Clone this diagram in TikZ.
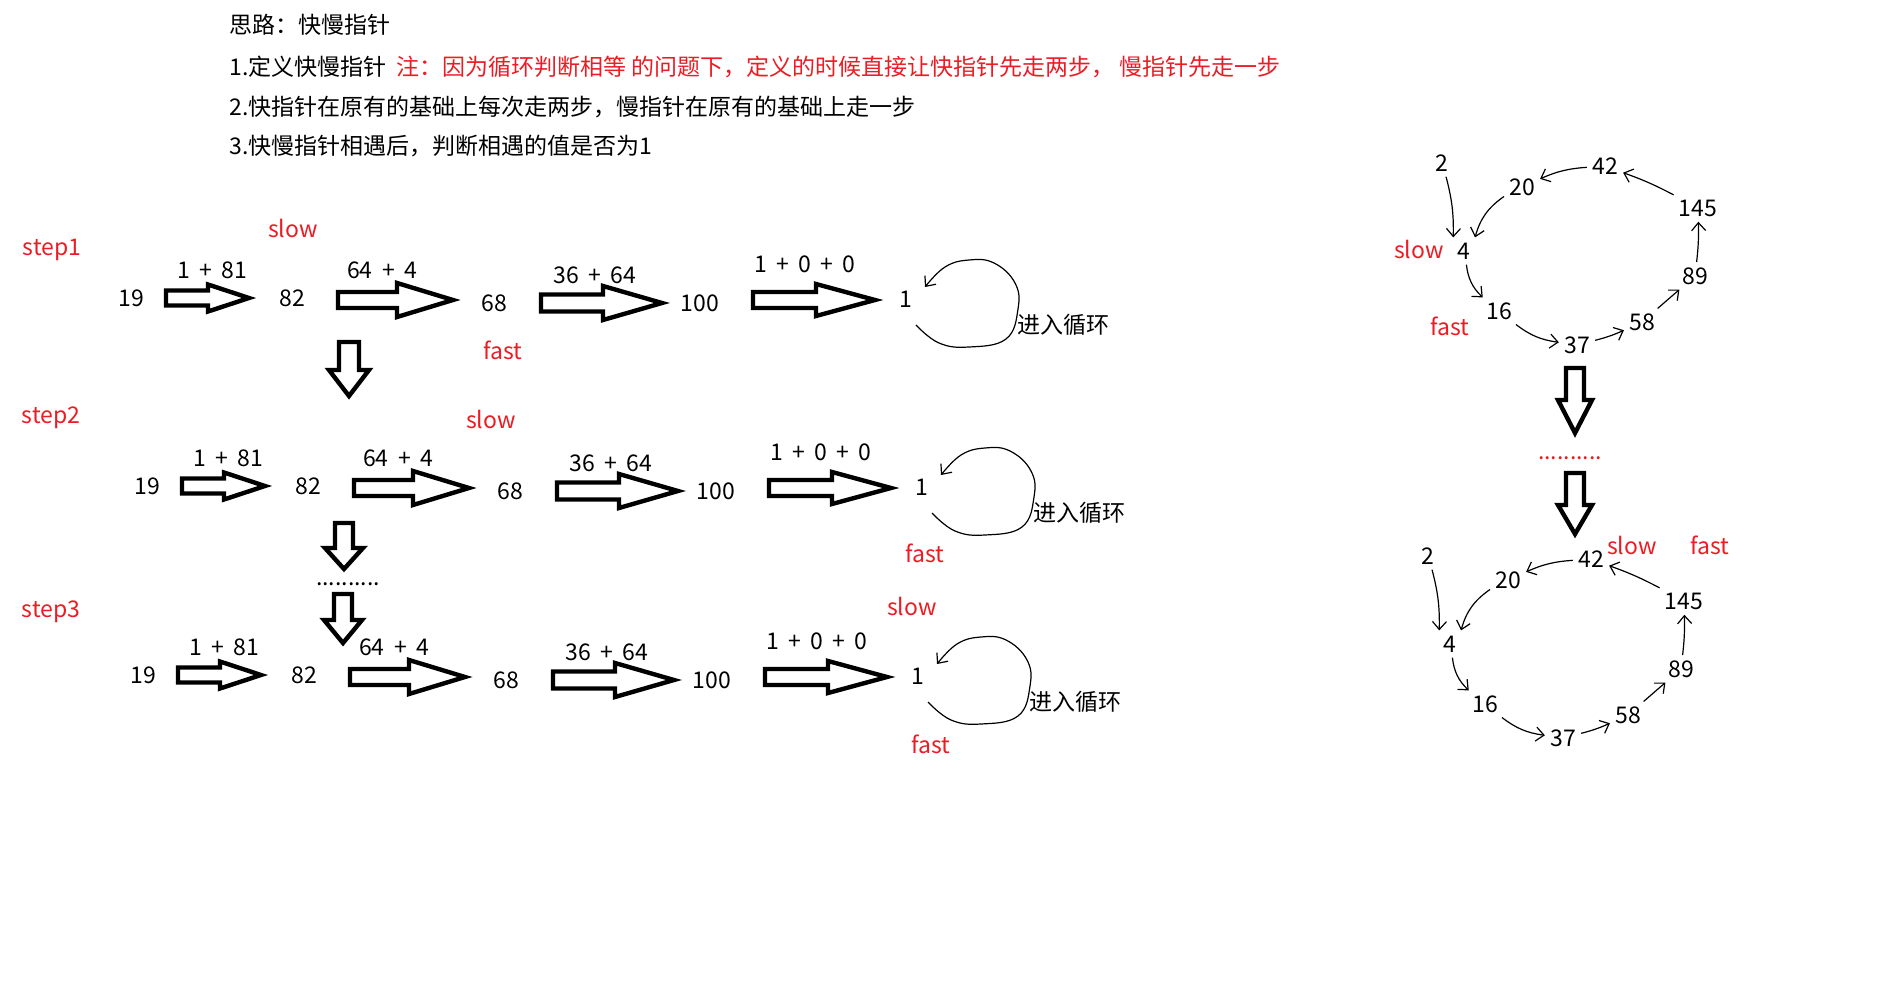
\documentclass[tikz,border=0pt]{standalone}
\usepackage{fontspec}
\setmainfont{Noto Sans CJK SC}
\newfontfamily\sumfont[WordSpace=1.8]{Noto Sans CJK SC}
\usetikzlibrary{arrows.meta}
\definecolor{pred}{RGB}{237,28,36}
% horizontal block arrow: x1, x-head-base, x-tip, y, shaft half, head half
\newcommand\HArrow[6]{\draw[barrow] (#1,#4-#5) -- (#2,#4-#5) -- (#2,#4-#6) -- (#3,#4) -- (#2,#4+#6) -- (#2,#4+#5) -- (#1,#4+#5) -- cycle;}
% vertical block arrow: x, y-top, y-head-base, y-tip, shaft half, head half
\newcommand\VArrow[6]{\draw[barrow] (#1-#5,#2) -- (#1+#5,#2) -- (#1+#5,#3) -- (#1+#6,#3) -- (#1,#4) -- (#1-#6,#3) -- (#1-#5,#3) -- cycle;}
\begin{document}
\begin{tikzpicture}[x=0.5pt,y=-0.5pt,
  txt/.style={inner sep=1pt,font=\fontsize{11.5pt}{14pt}\selectfont},
  sumtxt/.style={inner sep=1pt,font=\sumfont\fontsize{11.5pt}{14pt}\selectfont},
  rtxt/.style={txt,text=pred},
  num/.style={txt,inner sep=2pt},
  barrow/.style={draw=black,line width=2.2pt,line join=miter,fill=white},
  thinarrow/.style={draw=black,line width=0.6pt,-{Straight Barb[length=4pt,width=7pt]},shorten <=0.5pt,shorten >=0.5pt},
  loopline/.style={draw=black,line width=0.6pt,-{Straight Barb[length=4pt,width=7pt]}}]
\fill[white] (0,0) rectangle (1900,1000);
\useasboundingbox (0,0) rectangle (1900,1000);

% header
\node[txt,anchor=west] (h0) at (227,25) {思路：快慢指针};
\node[txt,anchor=west] (h1) at (227,67) {1.定义快慢指针};
\node[rtxt,anchor=west] (h1n) at (394,67) {注：因为循环判断相等 的问题下，定义的时候直接让快指针先走两步， 慢指针先走一步};
\node[txt,anchor=west] (h2) at (227,107) {2.快指针在原有的基础上每次走两步，慢指针在原有的基础上走一步};
\node[txt,anchor=west] (h3) at (227,146) {3.快慢指针相遇后，判断相遇的值是否为1};

% three rows
\foreach \r/\dx/\dy in {1/0/0,2/16/188,3/12/377}{
\begin{scope}[shift={(\dx,\dy)}]
  \node[txt] (n19-\r) at (131,298) {19};
  \node[txt] (n82-\r) at (292,298) {82};
  \node[txt] (n68-\r) at (494,303) {68};
  \node[txt] (n100-\r) at (700,303) {100};
  \node[txt] (n1-\r) at (906,299) {1};
  \HArrow{166}{208}{249}{298}{7.5}{13.5}
  \HArrow{338}{397}{453}{300}{8}{17}
  \HArrow{541}{603}{662}{303}{8.5}{17}
  \HArrow{753}{816}{875}{300}{8}{16}
  \node[sumtxt] (l1-\r) at (212,270) {1 + 81};
  \node[sumtxt] (l2-\r) at (382,270) {64 + 4};
  \node[sumtxt] (l3-\r) at (595,275) {36 + 64};
  \node[sumtxt] (l4-\r) at (805,264) {1 + 0 + 0};
  \draw[loopline] plot[smooth,tension=0.7] coordinates {(916,325) (939,343) (969,347) (1006,339) (1018,309) (1015,283) (994,263) (969,260) (945,267) (925,287)};
  \node[txt] (loop-\r) at (1063,325) {进入循环};
\end{scope}
}

% red pointer labels
\node[rtxt] (step1) at (52,250) {step1};
\node[rtxt] (slow1) at (293,228) {slow};
\node[rtxt] (fast1) at (503,350) {fast};
\node[rtxt] (step2) at (51,418) {step2};
\node[rtxt] (slow2) at (491,419) {slow};
\node[rtxt] (fast2) at (925,553) {fast};
\node[rtxt] (step3) at (51,612) {step3};
\node[rtxt] (slow3) at (912,606) {slow};
\node[rtxt] (fast3) at (931,744) {fast};

% left down arrows
\VArrow{349}{342}{370}{396}{10}{20}
\VArrow{344}{523}{548}{569}{9}{19}
\node[txt,anchor=base] (dotsL) at (348,585) {..........};
\VArrow{343}{594}{620}{643}{9}{19}

% right down arrows
\VArrow{1575}{368}{400}{433}{9}{17}
\node[txt,anchor=base,text=pred] (dotsR) at (1570,459) {..........};
\VArrow{1575}{473}{505}{534}{9}{17}

% cycles
\foreach \k/\dx/\dy in {1/0/0,2/-14/393}{
\begin{scope}[shift={(\dx,\dy)}]
  \node[num] (c2-\k) at (1442,163) {2};
  \node[num] (c20-\k) at (1522,187) {20};
  \node[num] (c42-\k) at (1605,166) {42};
  \node[num] (c145-\k) at (1698,208) {145};
  \node[num] (c4-\k) at (1464,251) {4};
  \node[num] (c89-\k) at (1695,276) {89};
  \node[num] (c16-\k) at (1499,311) {16};
  \node[num] (c58-\k) at (1642,322) {58};
  \node[num] (c37-\k) at (1577,345) {37};
  \draw[thinarrow] (c2-\k) to[bend left=8] (c4-\k.north west);
  \draw[thinarrow] (c20-\k) to[bend right=20] (c4-\k.north east);
  \draw[thinarrow] (c42-\k) to[bend right=10] (c20-\k);
  \draw[thinarrow] (c145-\k) to[bend right=4] (c42-\k);
  \draw[thinarrow] (c89-\k) to[bend right=4] (c145-\k);
  \draw[thinarrow] (c58-\k) to (c89-\k);
  \draw[thinarrow] (c37-\k) to[bend right=5] (c58-\k);
  \draw[thinarrow] (c16-\k) to[bend right=15] (c37-\k);
  \draw[thinarrow] (c4-\k) to[bend right=20] (c16-\k);
\end{scope}
}
\node[rtxt] (slowR1) at (1419,249) {slow};
\node[rtxt] (fastR1) at (1450,326) {fast};
\node[rtxt] (slowR2) at (1632,545) {slow};
\node[rtxt] (fastR2) at (1710,545) {fast};
\end{tikzpicture}
\end{document}
